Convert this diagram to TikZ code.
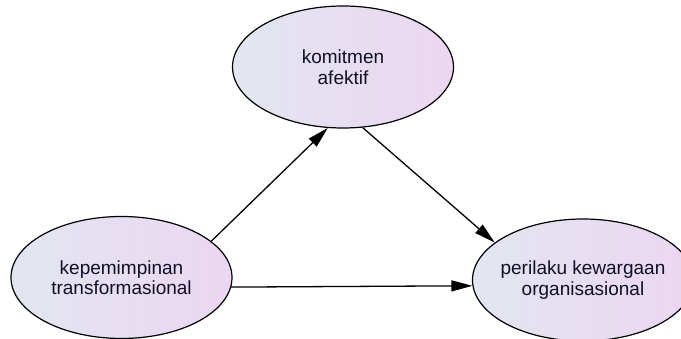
\documentclass[tikz,border=0pt]{standalone}
\usepackage{fontspec}
\setmainfont{Liberation Sans}
\usetikzlibrary{arrows.meta,positioning,shapes.geometric}
\definecolor{shadeL}{RGB}{226,230,240}
\definecolor{shadeR}{RGB}{236,214,242}
\definecolor{labeltext}{RGB}{16,16,40}
\tikzset{
  latent/.style={ellipse, draw=black, line width=1.2pt, left color=shadeL, right color=shadeR,
    minimum width=221pt, minimum height=122pt, inner xsep=-10pt, inner ysep=0pt,
    align=center, font=\fontsize{19}{20.5}\selectfont, text=labeltext},
  arr/.style={-{Triangle[length=21pt, width=11pt]}, line width=1.3pt, draw=black}
}
\begin{document}
\begin{tikzpicture}[x=1pt, y=1pt]
  \useasboundingbox (0,0) rectangle (681,339);
  \node[latent] (komitmen) at (343,272) {komitmen\\afektif};
  \node[latent] (kepemimpinan) at (121.5,61.5) {kepemimpinan\\transformasional};
  \node[latent] (perilaku) at (583,59) {perilaku kewargaan\\organisasional};
  \draw[arr] (kepemimpinan.22) -- (komitmen.256);
  \draw[arr] (komitmen.288) -- (perilaku.157);
  \draw[arr] (kepemimpinan.355) -- (perilaku.183.7);
\end{tikzpicture}
\end{document}
